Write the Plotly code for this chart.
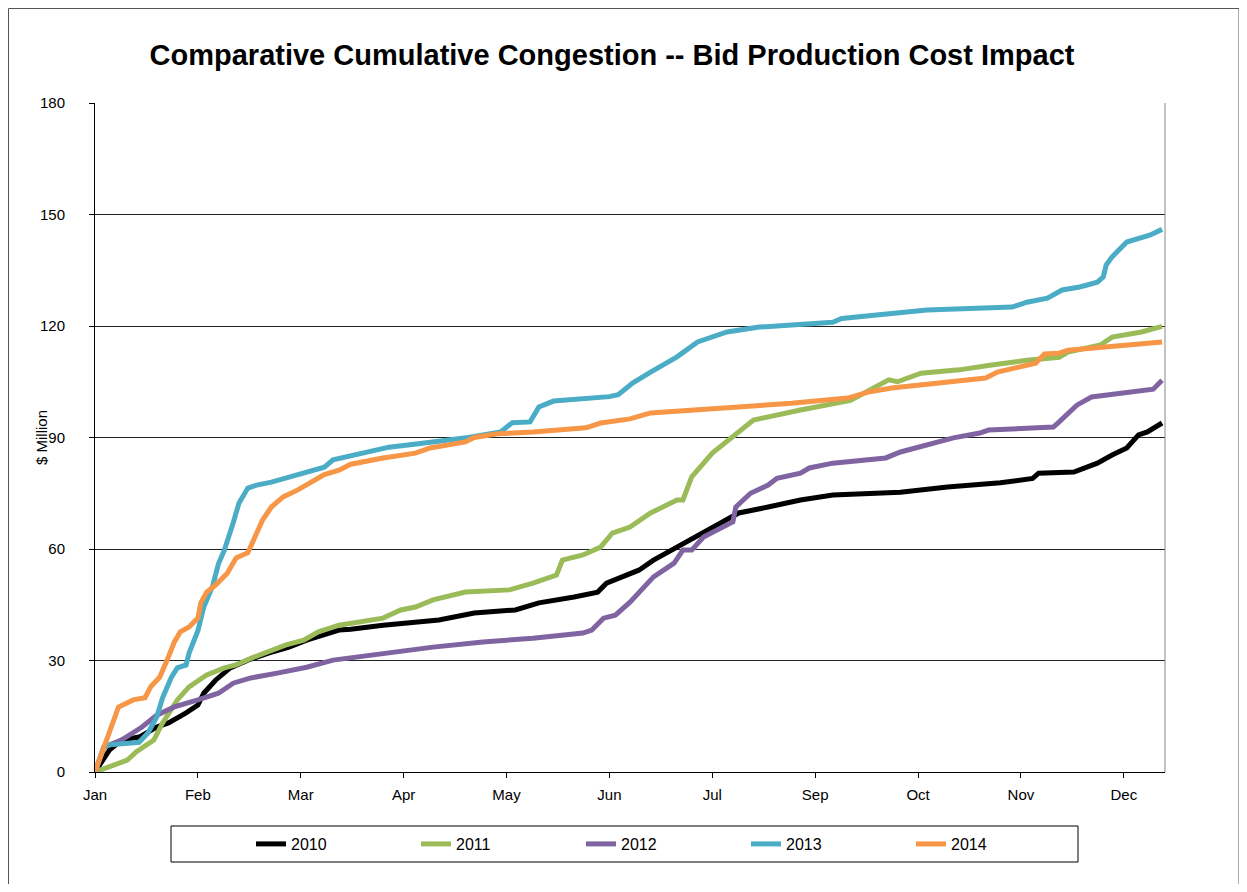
import plotly.graph_objects as go

# x = day of year (1..365), y = cumulative $ Million
day_2010 = [1, 6, 10, 16, 22, 26, 32, 36, 38, 42, 47, 53, 60, 67, 73, 79, 84, 88, 99, 118, 130, 144, 152, 164, 172, 175, 180, 186, 191, 199, 206, 216, 220, 230, 241, 252, 264, 275, 291, 309, 320, 322, 334, 342, 347, 352, 356, 359, 364]
val_2010 = [0, 6, 8.6, 9.4, 12.1, 13.2, 15.9, 18, 21.2, 24.7, 28, 30.1, 32, 33.6, 35.5, 36.9, 38.2, 38.4, 39.5, 40.9, 42.8, 43.6, 45.5, 47.1, 48.4, 50.8, 52.5, 54.3, 57, 60.5, 63.2, 67.8, 69.7, 71.3, 73.2, 74.5, 75, 75.3, 76.7, 77.8, 79, 80.4, 80.7, 83.1, 85.3, 87.2, 90.7, 91.5, 93.9]

day_2011 = [1, 6, 12, 15, 21, 24, 29, 33, 39, 45, 49, 55, 60, 66, 72, 77, 84, 99, 105, 110, 116, 127, 142, 150, 158, 160, 167, 173, 177, 183, 190, 199, 201, 204, 211, 218, 225, 241, 258, 271, 274, 282, 295, 306, 318, 329, 332, 343, 347, 357, 364]
val_2011 = [0, 1.3, 3.2, 5.4, 8.6, 13.2, 19.4, 22.9, 26.1, 28, 28.8, 30.9, 32.3, 34.2, 35.5, 37.7, 39.5, 41.4, 43.6, 44.4, 46.3, 48.4, 49, 50.8, 53, 57, 58.4, 60.5, 64.3, 65.9, 69.7, 73.2, 73.2, 79.4, 85.8, 90.1, 94.7, 97.4, 100, 105.5, 105, 107.3, 108.2, 109.5, 110.8, 111.6, 113, 114.9, 117, 118.4, 119.9]

day_2012 = [1, 4, 10, 17, 22, 28, 36, 43, 48, 54, 63, 73, 82, 99, 116, 133, 150, 167, 170, 174, 178, 183, 191, 198, 201, 204, 208, 218, 219, 224, 230, 233, 241, 244, 252, 270, 275, 293, 302, 305, 327, 329, 335, 340, 350, 361, 364]
val_2012 = [0, 6.7, 8.6, 12.1, 15.3, 17.5, 19.4, 21.2, 23.9, 25.3, 26.6, 28.2, 30.1, 32, 33.6, 35, 36, 37.4, 38.2, 41.4, 42.2, 45.7, 52.5, 56.2, 59.7, 59.7, 63.2, 67.3, 71.3, 75, 77.2, 79, 80.4, 81.8, 83.1, 84.5, 86.1, 89.9, 91.2, 92, 92.8, 94.2, 98.7, 100.9, 102, 103, 105.4]

day_2013 = [1, 4, 6, 13, 16, 19, 22, 24, 27, 29, 32, 33, 36, 38, 41, 43, 45, 48, 50, 53, 56, 61, 67, 73, 79, 82, 94, 101, 111, 128, 139, 143, 149, 152, 157, 170, 176, 179, 184, 190, 199, 206, 216, 227, 238, 252, 255, 272, 284, 301, 313, 318, 325, 330, 336, 342, 344, 345, 347, 352, 356, 360, 364]
val_2013 = [0, 6.7, 7.3, 7.8, 8, 10.5, 14.8, 20, 25.5, 28, 28.8, 32, 38, 44.4, 50, 56, 59.7, 67, 72.4, 76.4, 77.2, 78, 79.4, 80.7, 82, 84, 86.3, 87.4, 88.3, 90, 91.5, 94, 94.2, 98.2, 99.8, 100.5, 101, 101.5, 104.7, 107.6, 111.7, 115.7, 118.4, 119.7, 120.3, 121, 122, 123.5, 124.3, 124.8, 125.1, 126.4, 127.5, 129.7, 130.5, 131.8, 133.2, 136.4, 138.6, 142.6, 143.4, 144.5, 146]

day_2014 = [1, 9, 14, 18, 20, 23, 26, 28, 30, 33, 36, 37, 39, 42, 46, 49, 53, 55, 58, 61, 65, 70, 74, 79, 84, 88, 99, 110, 115, 122, 127, 130, 138, 150, 160, 168, 173, 183, 190, 216, 238, 257, 264, 272, 295, 304, 308, 321, 324, 329, 332, 343, 354, 364]
val_2014 = [0, 17.5, 19.4, 20, 23, 25.5, 31, 35, 37.7, 39, 41.4, 45.5, 48.4, 50.3, 53.5, 57.6, 59, 62.4, 67.8, 71.3, 74, 75.9, 77.7, 80, 81.2, 82.8, 84.5, 85.8, 87.2, 88, 88.8, 90, 91, 91.5, 92, 92.6, 93.9, 95, 96.6, 98, 99.2, 100.6, 102.2, 103.3, 105, 106, 107.6, 110, 112.5, 112.7, 113.5, 114.3, 115.1, 115.7]

series_names = ["2010", "2011", "2012", "2013", "2014"]
series_colors = ["#000000", "#9BBB59", "#8064A2", "#4BACC6", "#F79646"]

tick_days = [1, 36, 71, 106, 141, 176, 211, 246, 281, 316, 351]
tick_labels = ["Jan", "Feb", "Mar", "Apr", "May", "Jun", "Jul", "Sep", "Oct", "Nov", "Dec"]

FONT = "Liberation Sans, Arial, sans-serif"

fig = go.Figure()
all_days = [day_2010, day_2011, day_2012, day_2013, day_2014]
all_vals = [val_2010, val_2011, val_2012, val_2013, val_2014]
for d, v, n, c in zip(all_days, all_vals, series_names, series_colors):
    fig.add_trace(go.Scatter(x=d, y=v, name=n, mode="lines",
                             line=dict(color=c, width=5)))

OFF = 8  # page body margin
W, H = 1231, 876
L, R, T, B = 95 - OFF, 1165 - OFF, 103 - OFF, 772 - OFF
pw, ph = R - L, B - T

def px_x(p):  # screen px -> paper x
    return (p - OFF - L) / pw

def px_y(p):  # screen px -> paper y
    return (B - (p - OFF)) / ph

fig.update_layout(
    width=W, height=H,
    margin=dict(l=L, r=W - R, t=T, b=H - B, pad=0),
    paper_bgcolor="white", plot_bgcolor="white",
    font=dict(family=FONT, color="black", size=15),
    title=dict(text="<b>Comparative Cumulative Congestion -- Bid Production Cost Impact</b>",
               x=(612 - OFF) / W, xanchor="center", y=1 - (55 - OFF) / H, yanchor="middle",
               font=dict(size=29, family=FONT, color="black")),
    showlegend=True,
    legend=dict(orientation="h", x=px_x(251), xanchor="left",
                y=px_y(844), yanchor="middle",
                entrywidth=120, entrywidthmode="pixels",
                font=dict(size=16, family=FONT), bgcolor="rgba(0,0,0,0)",
                borderwidth=0, traceorder="normal"),
    xaxis=dict(range=[1, 365], tickvals=tick_days, ticktext=tick_labels,
               showgrid=False, zeroline=False, showline=True, linecolor="black",
               linewidth=1, ticks="outside", ticklen=5, tickcolor="black",
               ticklabelstandoff=4,
               tickfont=dict(size=15, family=FONT)),
    yaxis=dict(range=[0, 180], tickvals=[0, 30, 60, 90, 120, 150, 180],
               showgrid=True, gridcolor="#222222", gridwidth=1, zeroline=False,
               showline=True, linecolor="black", linewidth=1, ticks="outside",
               ticklen=5, tickcolor="black", ticklabelstandoff=21,
               tickfont=dict(size=15, family=FONT)),
    annotations=[
        dict(text="$ Million", xref="paper", yref="paper", x=px_x(41), y=px_y(438),
             xanchor="center", yanchor="middle", textangle=-90, showarrow=False,
             font=dict(size=15, family=FONT, color="black")),
    ],
    shapes=[
        dict(type="line", xref="paper", yref="paper", x0=1, x1=1, y0=0, y1=1,
             line=dict(color="#888888", width=1)),
        dict(type="rect", xref="paper", yref="paper",
             x0=px_x(171), x1=px_x(1078), y0=px_y(862), y1=px_y(826),
             line=dict(color="black", width=1)),
        dict(type="rect", xref="paper", yref="paper",
             x0=px_x(8.5), x1=px_x(1239), y0=px_y(920), y1=px_y(8.5),
             line=dict(color="#555555", width=1)),
    ],
)

fig.write_html("out.html")
